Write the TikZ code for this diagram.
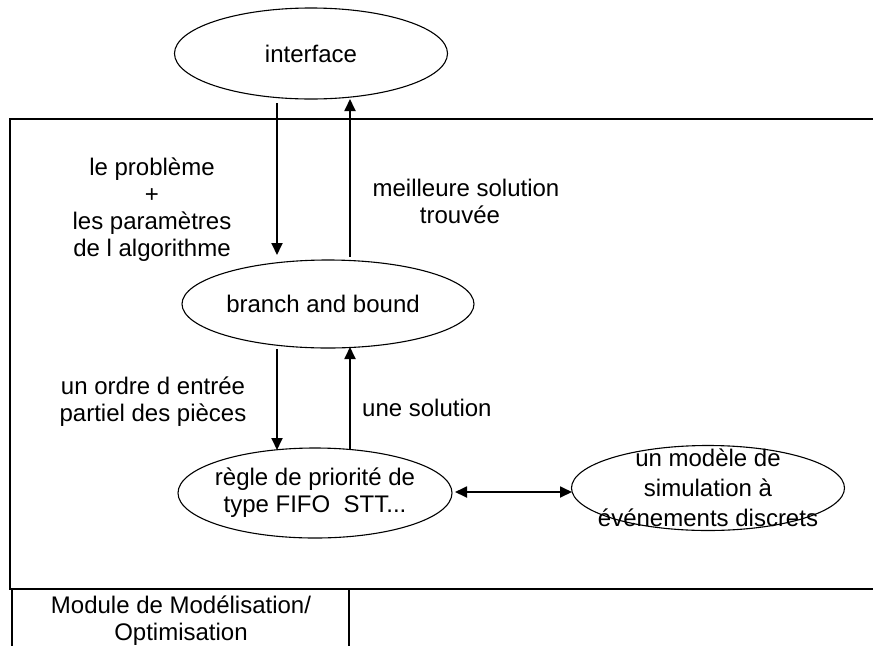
\documentclass[tikz,border=0pt]{standalone}
\usepackage{fontspec}
\setmainfont{Liberation Sans}
\usetikzlibrary{shapes.geometric,arrows.meta}
\begin{document}
\begin{tikzpicture}[x=1pt,y=-1pt,
  ell/.style={ellipse,draw,line width=1.1pt,inner sep=0pt},
  lbl/.style={align=center,inner sep=0pt},
  conn/.style={line width=1.8pt,-{Triangle[length=12pt,width=11pt]}},
  conntwo/.style={line width=1.8pt,{Triangle[length=12pt,width=11pt]}-{Triangle[length=12pt,width=11pt]}},
  frame/.style={line width=1.3pt},
  font=\fontsize{24}{27}\selectfont]
\useasboundingbox (0,0) rectangle (873,646);

% frame of the module
\draw[frame] (873,119) -- (10,119) -- (10,589) -- (873,589);
\draw[frame] (12,589) -- (12,646);
\draw[frame] (349,589) -- (349,646);

% ellipses
\node[ell,minimum width=273pt,minimum height=91pt,
  label={[lbl]center:interface}] (intf) at (311,53.5) {};
\node[ell,minimum width=292pt,minimum height=88pt,
  label={[lbl,xshift=-5pt]center:branch and bound}] (bb) at (328,304) {};
\node[ell,minimum width=274pt,minimum height=90pt,
  label={[lbl]center:{règle de priorité de\\type FIFO\ \ STT...}}] (regle) at (315,493) {};
\node[ell,minimum width=273pt,minimum height=85pt,
  label={[lbl]center:{un modèle de\\[3pt]simulation à\\[3pt]événements discrets}}] (sim) at (708,488) {};

% free texts
\node[lbl] (t1) at (152,210) {le problème\\+\\les paramètres\\de l algorithme};
\node[lbl] (t2) at (466,201) {meilleure solution\\trouvée\hspace*{12pt}};
\node[lbl] (t3) at (153,402) {un ordre d entrée\\partiel des pièces};
\node[lbl,anchor=base west] (t4) at (362,416) {une solution};
\node[lbl] (t5) at (181,621) {Module de Modélisation/\\Optimisation};

% connector ends
\coordinate (d1s) at (277,103);
\coordinate (d1e) at (277,255);
\coordinate (u1s) at (350,257);
\coordinate (u1e) at (350,99);
\coordinate (d2s) at (277,349);
\coordinate (d2e) at (277,450);
\coordinate (u2s) at (350,449);
\coordinate (u2e) at (350,347);
\coordinate (hs) at (455,492);
\coordinate (he) at (572,492);

\draw[conn] (d1s) -- (d1e);
\draw[conn] (u1s) -- (u1e);
\draw[conn] (d2s) -- (d2e);
\draw[conn] (u2s) -- (u2e);
\draw[conntwo] (hs) -- (he);
\end{tikzpicture}
\end{document}
